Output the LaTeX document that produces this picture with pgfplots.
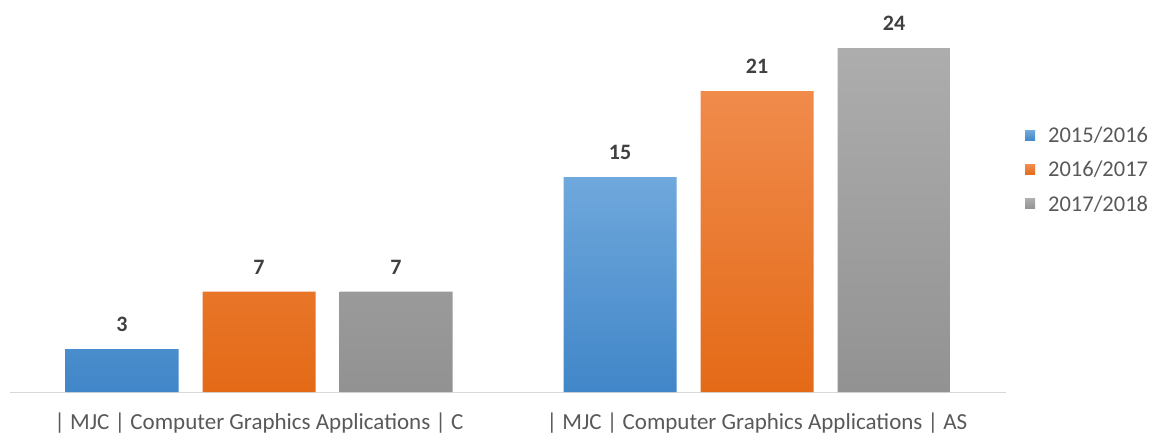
\documentclass[border=0pt]{standalone}
\usepackage{pgfplots}
\pgfplotsset{compat=1.18}
\usepackage{fontspec}
\setmainfont{Carlito}

\definecolor{bluetop}{HTML}{6FA8DC}
\definecolor{bluebot}{HTML}{4186C8}
\definecolor{orangetop}{HTML}{F08B4C}
\definecolor{orangebot}{HTML}{E46A17}
\definecolor{graytop}{HTML}{ADADAD}
\definecolor{graybot}{HTML}{929292}
\definecolor{axisgray}{HTML}{D9D9D9}
\definecolor{labelgray}{HTML}{595959}
\definecolor{valgray}{HTML}{404040}

\begin{document}
\begin{tikzpicture}
\path[use as bounding box] (-10pt,-42pt) rectangle (1142pt,392pt);
\begin{axis}[
    scale only axis,
    width=996pt, height=387pt,
    xmin=-0.5, xmax=1.5, ymin=0, ymax=27,
    ybar=24pt, bar width=113pt,
    axis x line*=bottom, axis y line=none,
    x axis line style={draw=axisgray, line width=1pt, -},
    xtick={0,1},
    xticklabels={{| MJC | Computer Graphics Applications | C}, {| MJC | Computer Graphics Applications | AS}},
    major tick length=0pt,
    xticklabel style={font=\fontsize{23}{27}\selectfont, text=labelgray, yshift=-17pt},
    ytick=\empty,
    /pgf/number format/assume math mode=true,
    nodes near coords,
    every node near coord/.append style={font=\bfseries\fontsize{22}{26}\selectfont, text=valgray, yshift=14pt},
    legend style={at={(1.016,0.574)}, anchor=west, draw=none, fill=none,
        font=\fontsize{22.5}{26}\selectfont, text=labelgray, row sep=13pt,
        /tikz/every odd column/.append style={column sep=11pt}},
    legend image code/.code={\fill[#1] (0pt,-5pt) rectangle (10pt,5pt);},
]
% 2015/2016
\addplot[draw=none, top color=bluetop, bottom color=bluebot] coordinates {(0,3) (1,15)};
% 2016/2017
\addplot[draw=none, top color=orangetop, bottom color=orangebot] coordinates {(0,7) (1,21)};
% 2017/2018
\addplot[draw=none, top color=graytop, bottom color=graybot] coordinates {(0,7) (1,24)};
\legend{2015/2016, 2016/2017, 2017/2018}
\end{axis}
\end{tikzpicture}
\end{document}
